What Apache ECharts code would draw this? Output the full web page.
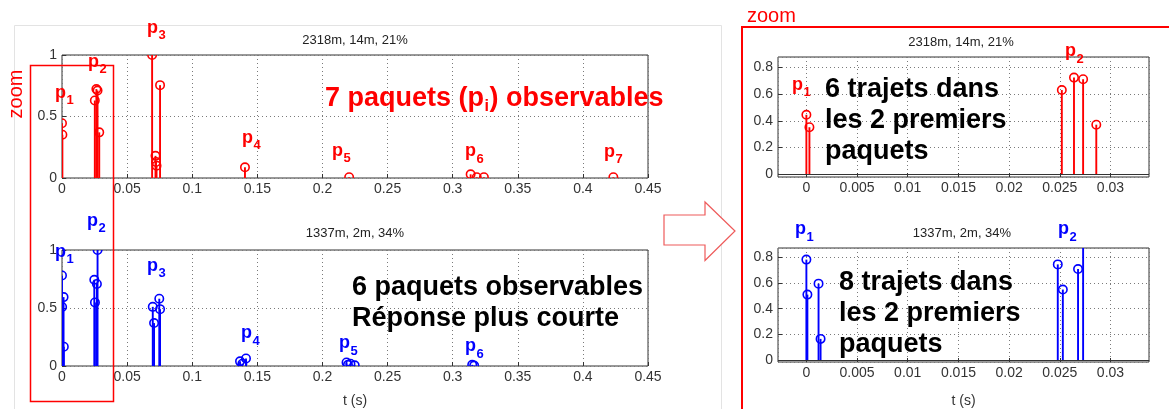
<!DOCTYPE html>
<html><head><meta charset="utf-8">
<script src="https://cdn.jsdelivr.net/npm/echarts@6/dist/echarts.min.js"></script>
<style>html,body{margin:0;padding:0;background:#fff}#c{width:1169px;height:409px}</style>
</head><body><div id="c"></div><script>
// ---------- data ----------
const redT  = [0, 0.0003, 0.0252, 0.0264, 0.0273, 0.0286, 0.0692, 0.0718, 0.0722, 0.0726, 0.0753, 0.1405, 0.2205, 0.3138, 0.3185, 0.3240, 0.4234];
const redV  = [0.445, 0.352, 0.630, 0.723, 0.711, 0.371, 1.0, 0.18, 0.13, 0.10, 0.755, 0.087, 0.006, 0.03, 0.006, 0.006, 0.006];
const blueT = [0, 0.0001, 0.0012, 0.0014, 0.0248, 0.0253, 0.0268, 0.0273, 0.0697, 0.0707, 0.0747, 0.0753, 0.1367, 0.1385, 0.1413, 0.2185, 0.2196, 0.2215, 0.2248, 0.3150, 0.3165];
const blueV = [0.78, 0.509, 0.594, 0.166, 0.743, 0.548, 0.707, 1.0, 0.51, 0.37, 0.58, 0.49, 0.04, 0.02, 0.065, 0.03, 0.01, 0.02, 0.006, 0.01, 0.004];
const topTitle = '2318m, 14m, 21%';
const bottomTitle = '1337m, 2m, 34%';
const xName = 't (s)';
const fullXRange = [0, 0.45], fullXStep = 0.05;
const fullYRange = [0, 1], fullYStep = 0.5;
const zoomXRange = [-0.0028, 0.0338], zoomXStep = 0.005;
const zoomTopYRange = [-0.02, 0.877], zoomBotYRange = [-0.013, 0.87], zoomYStep = 0.2;
const redBigText = ['7 paquets (p', 'i', ') observables'];
const blueBigText = ['6 paquets observables', 'Réponse plus courte'];
const zoomRedText = ['6 trajets dans', 'les 2 premiers', 'paquets'];
const zoomBlueText = ['8 trajets dans', 'les 2 premiers', 'paquets'];
const redPacketNames = ['1','2','3','4','5','6','7'];
const bluePacketNames = ['1','2','3','4','5','6'];

// ---------- layout ----------
const FONT = '"Liberation Sans", Arial, Helvetica, sans-serif';
const RED = '#ff0000', BLUE = '#0000ff';
const chart = echarts.init(document.getElementById('c'), null, {renderer:'canvas'});
const gridStyle = {show:true, borderColor:'#333', borderWidth:1, backgroundColor:'rgba(0,0,0,0)'};
const grid = [
  Object.assign({left:62, top:55, width:586, height:123}, gridStyle),
  Object.assign({left:62, top:250, width:586, height:123}, gridStyle),
  Object.assign({left:778, top:57, width:371, height:120}, gridStyle),
  Object.assign({left:778, top:248, width:371, height:120}, gridStyle)
];
function axisBase(gi, range) {
  return {type:'value', gridIndex:gi, min:range[0], max:range[1],
    axisLine:{show:false, onZero:false},
    axisTick:{show:true, inside:true, length:4, lineStyle:{color:'#333'}},
    splitLine:{show:true, lineStyle:{color:'#7a7a7a', type:[1,3], width:1}},
    axisLabel:{fontFamily:FONT, fontSize:14, color:'#333', margin:4, interval:0}};
}
function fixedAxis(gi, range, step) { const a = axisBase(gi, range); a.interval = step; return a; }
function zoomAxis(gi, range, step) {
  const a = axisBase(gi, range); a.minInterval = step; a.maxInterval = step; a.splitNumber = 7;
  a.axisLabel.showMinLabel = false; a.axisLabel.showMaxLabel = false; return a;
}
const xAxis = [fixedAxis(0, fullXRange, fullXStep), fixedAxis(1, fullXRange, fullXStep),
  zoomAxis(2, zoomXRange, zoomXStep), zoomAxis(3, zoomXRange, zoomXStep)];
[1,3].forEach(i => { xAxis[i].name = xName; xAxis[i].nameLocation = 'middle'; xAxis[i].nameGap = 28;
  xAxis[i].nameTextStyle = {fontFamily:FONT, fontSize:14, color:'#333'}; });
xAxis[3].nameGap = 32;
const yAxis = [fixedAxis(0, fullYRange, fullYStep), fixedAxis(1, fullYRange, fullYStep),
  zoomAxis(2, zoomTopYRange, zoomYStep), zoomAxis(3, zoomBotYRange, zoomYStep)];
yAxis.forEach(a => { a.axisLabel.margin = 5; });

function stem(gi, color, ts, vs, baseline) {
  const s = {type:'custom', xAxisIndex:gi, yAxisIndex:gi, clip:true,
    data: ts.map((t, i) => [t, vs[i]]),
    renderItem: function (params, api) {
      const p0 = api.coord([api.value(0), 0]);
      const p1 = api.coord([api.value(0), api.value(1)]);
      return {type:'group', children:[
        {type:'line', shape:{x1:p0[0], y1:p0[1], x2:p1[0], y2:p1[1]}, style:{stroke:color, lineWidth:1.9}},
        {type:'circle', shape:{cx:p1[0], cy:p1[1], r:4.2}, style:{stroke:color, fill:null, lineWidth:1.6}}
      ]};
    }};
  if (baseline) s.markLine = {silent:true, symbol:'none', label:{show:false},
    lineStyle:{color:'#333', type:'solid', width:1}, data:[{yAxis:0}], animation:false};
  return s;
}
const series = [stem(0, RED, redT, redV), stem(1, BLUE, blueT, blueV),
  stem(2, RED, redT, redV, true), stem(3, BLUE, blueT, blueV, true)];

// ---------- annotations ----------
const mctx = document.createElement('canvas').getContext('2d');
function tw(txt, font) { mctx.font = font; return mctx.measureText(txt).width; }
function txt(x, base, text, size, color, bold, align) {
  const f = (bold ? 'bold ' : '') + size + 'px ' + FONT;
  return {type:'text', x:x, y:base - 0.35*size, z:100,
    style:{text:text, font:f, fill:color, align:align||'left', verticalAlign:'middle'}};
}
function pLabel(x, base, n, color) {
  const w = tw('p', 'bold 18px ' + FONT);
  return [txt(x, base, 'p', 18, color, true), txt(x + w + 0.5, base + 6, n, 13, color, true)];
}
const g = [];
// light frame around left figure
g.push({type:'rect', shape:{x:14.5, y:25.5, width:707, height:400}, style:{fill:null, stroke:'#e3e3e3', lineWidth:1}, z:1});
// titles
g.push(txt(355, 44.5, topTitle, 13, '#222', false, 'center'));
g.push(txt(355, 237.5, bottomTitle, 13, '#222', false, 'center'));
g.push(txt(961, 46.5, topTitle, 13, '#222', false, 'center'));
g.push(txt(962, 237.5, bottomTitle, 13, '#222', false, 'center'));
// packet labels
const redLPos = [[55,99],[88,68],[147,34],[242,144],[332,157],[465,157.5],[604,158]];
redLPos.forEach((p, i) => g.push(...pLabel(p[0], p[1], redPacketNames[i], RED)));
const blueLPos = [[55,258],[87,227],[147,272],[241,339.5],[339,349.5],[465,352.5]];
blueLPos.forEach((p, i) => g.push(...pLabel(p[0], p[1], bluePacketNames[i], BLUE)));
g.push(...pLabel(792, 91, redPacketNames[0], RED));
g.push(...pLabel(1065, 57.5, redPacketNames[1], RED));
g.push(...pLabel(795, 235.5, bluePacketNames[0], BLUE));
g.push(...pLabel(1058, 235.5, bluePacketNames[1], BLUE));
// big red text with subscript
(function(){
  const F = 'bold 27px ' + FONT, Fs = 'bold 16px ' + FONT;
  let x = 325; const base = 108;
  g.push(txt(x, base, redBigText[0], 27, RED, true)); x += tw(redBigText[0], F);
  g.push(txt(x + 0.5, base + 4, redBigText[1], 16, RED, true)); x += tw(redBigText[1], Fs) + 1;
  g.push(txt(x, base, redBigText[2], 27, RED, true));
})();
blueBigText.forEach((s, i) => g.push(txt(352, 296.5 + i*31.5, s, 27, '#000', true)));
zoomRedText.forEach((s, i) => g.push(txt(825, 98.5 + i*31.3, s, 27, '#000', true)));
zoomBlueText.forEach((s, i) => g.push(txt(839, 291.5 + i*31.3, s, 27, '#000', true)));
// zoom boxes
g.push({type:'rect', shape:{x:30.5, y:65.5, width:83, height:336}, style:{fill:null, stroke:RED, lineWidth:1.5}, z:110});
g.push({type:'text', x:16, y:94, rotation:Math.PI/2, z:110,
  style:{text:'zoom', font:'20px ' + FONT, fill:RED, align:'center', verticalAlign:'middle'}});
g.push({type:'rect', shape:{x:742, y:27, width:450, height:420}, style:{fill:null, stroke:RED, lineWidth:2}, z:110});
g.push(txt(747, 23, 'zoom', 20, RED, false));
// arrow
g.push({type:'polygon', shape:{points:[[664,215],[705,215],[705,202],[735,231],[705,260.5],[705,245],[664,245]]},
  style:{fill:'#fff', stroke:'#ee5a5a', lineWidth:1.2}, z:110});

chart.setOption({animation:false, backgroundColor:'#fff', grid:grid, xAxis:xAxis, yAxis:yAxis, series:series, graphic:{elements:g}});
</script></body></html>
